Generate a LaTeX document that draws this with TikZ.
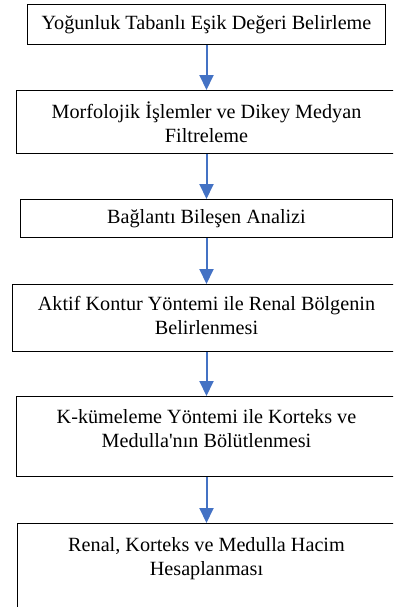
\documentclass[tikz,border=0pt]{standalone}
\usepackage{fontspec}
\setmainfont{Liberation Serif}
\usetikzlibrary{arrows.meta}
\definecolor{okmavi}{RGB}{68,114,196}

\begin{document}
\begin{tikzpicture}[x=0.5pt, y=-0.5pt,
        kutu/.style={rectangle, draw=black, line width=0.6pt, anchor=north, align=center, inner xsep=0pt, inner ysep=2pt, font=\fontsize{10.1pt}{11.75pt}\selectfont},
        ok/.style={-{Triangle[width=7pt, length=7.5pt]}, draw=okmavi, line width=1pt} % Mavi oklar
    ]
        % Sayfa sınırları (kutular sağda ve altta kesiliyor)
        \useasboundingbox (0,0) rectangle (393,607);
        \clip (0,0) rectangle (393,607);

        % --- Eşik Değeri ---
        \node[kutu, minimum width=179pt, minimum height=20pt] (esik) at (206.5, 4) {Yoğunluk Tabanlı Eşik Değeri Belirleme};

        % --- Morfolojik İşlemler ---
        \node[kutu, minimum width=190pt, minimum height=31.5pt] (morf) at (206.5, 90) {
            Morfolojik İşlemler ve Dikey Medyan\\
            Filtreleme
        };

        % --- Bağlantı Bileşen Analizi ---
        \node[kutu, minimum width=186pt, minimum height=19pt] (baglanti) at (206.5, 199) {Bağlantı Bileşen Analizi};

        % --- Aktif Kontur ---
        \node[kutu, minimum width=194pt, minimum height=33.5pt] (kontur) at (206.5, 284) {
            Aktif Kontur Yöntemi ile Renal Bölgenin\\
            Belirlenmesi\rule[-2.5pt]{0pt}{2.5pt}
        };

        % --- K-kümeleme ---
        \node[kutu, minimum width=190pt, minimum height=40pt] (kume) at (206.5, 396) {
            K-kümeleme Yöntemi ile Korteks ve\\
            Medulla{\textquotesingle}nın Bölütlenmesi\rule[-8pt]{0pt}{8pt}
        };

        % --- Hacim Hesabı (alt kenarı sayfanın dışında) ---
        \node[kutu, minimum width=189pt, minimum height=60pt] (hacim) at (206.5, 523) {
            Renal, Korteks ve Medulla Hacim\\
            Hesaplanması\rule[-27pt]{0pt}{27pt}
        };

        % ================= OKLAR =================
        \draw[ok] (esik) -- (morf);
        \draw[ok] (morf) -- (baglanti);
        \draw[ok] (baglanti) -- (kontur);
        \draw[ok] (kontur) -- (kume);
        \draw[ok] (kume) -- (hacim);

    \end{tikzpicture}
\end{document}
